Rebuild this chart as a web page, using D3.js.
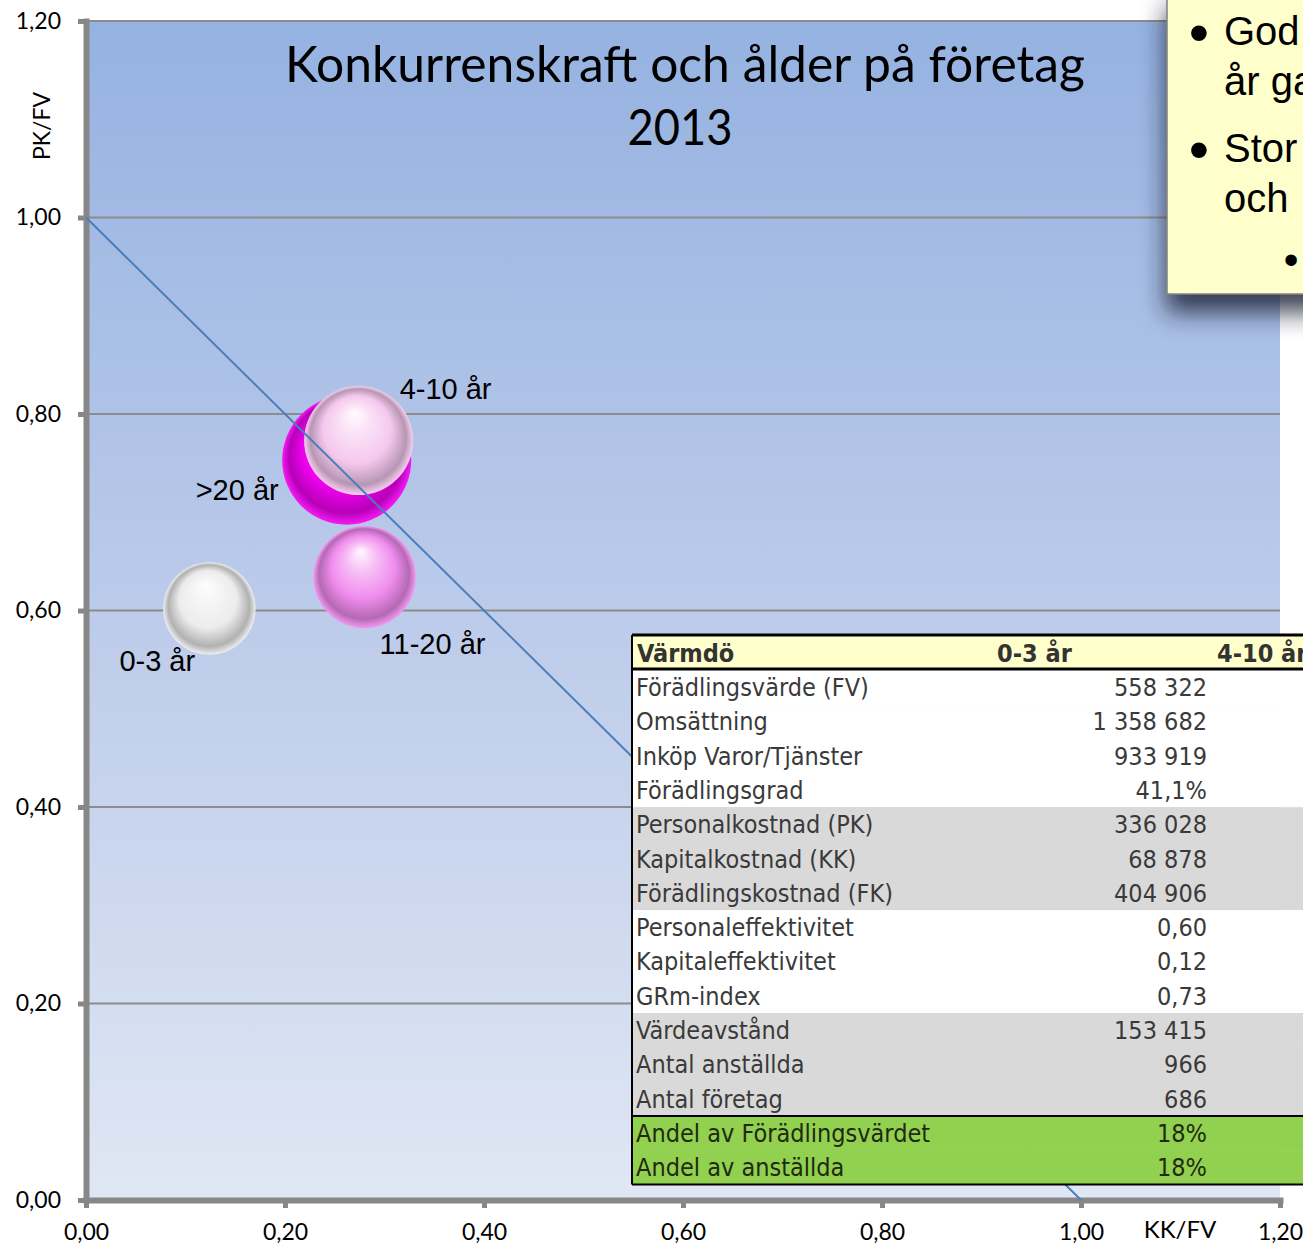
<!DOCTYPE html>
<html>
<head>
<meta charset="utf-8">
<script src="https://cdn.jsdelivr.net/npm/d3@7"></script>
<style>
  html, body { margin: 0; padding: 0; background: #fff; overflow: hidden; }
  svg { display: block; }
</style>
</head>
<body>
<script>
// ---------------- DATA ----------------
const categories = ["0-3 år", "4-10 år", "11-20 år", ">20 år"];
const kkfv = [0.124, 0.274, 0.28, 0.262];     // x: KK/FV
const pkfv = [0.602, 0.773, 0.634, 0.753];    // y: PK/FV
const bubbleSize = [18, 25, 22, 35];          // share of förädlingsvärde (%)

const xTicks = [0, 0.2, 0.4, 0.6, 0.8, 1.0, 1.2];
const yTicks = [0, 0.2, 0.4, 0.6, 0.8, 1.0, 1.2];
const refLine = [[0, 1], [1, 0]];

const chartTitle = ["Konkurrenskraft och ålder på företag", "2013"];
const xAxisTitle = "KK/FV";
const yAxisTitle = "PK/FV";

const tableHeader = ["Värmdö", "0-3 år", "4-10 år"];
const tableLabels = [
  "Förädlingsvärde (FV)", "Omsättning", "Inköp Varor/Tjänster", "Förädlingsgrad",
  "Personalkostnad (PK)", "Kapitalkostnad (KK)", "Förädlingskostnad (FK)",
  "Personaleffektivitet", "Kapitaleffektivitet", "GRm-index",
  "Värdeavstånd", "Antal anställda", "Antal företag",
  "Andel av Förädlingsvärdet", "Andel av anställda"
];
const tableValues03 = [
  "558 322", "1 358 682", "933 919", "41,1%",
  "336 028", "68 878", "404 906",
  "0,60", "0,12", "0,73",
  "153 415", "966", "686",
  "18%", "18%"
];
const noteLines = [
  { bullet: true, text: "God" },
  { bullet: false, text: "år ga" },
  { bullet: true, text: "Stor" },
  { bullet: false, text: "och" }
];

// ---------------- STYLE ----------------
const W = 1303, H = 1247;
const bubbleColors = { "0-3 år": "#ececec", "4-10 år": "#f5c8ee", "11-20 år": "#f08cee", ">20 år": "#f400f4" };
const labelOffset = {
  "0-3 år":  { dx: -90, dy: 62, anchor: "start" },
  "4-10 år": { dx: 41, dy: -42, anchor: "start" },
  "11-20 år": { dx: 15, dy: 77, anchor: "start" },
  ">20 år":  { dx: -151, dy: 40, anchor: "start" }
};
const rowBand = i => (i >= 13 ? "#92d050" : (i >= 4 && i <= 6) || (i >= 10 && i <= 12) ? "#d9d9d9" : "#ffffff");

const svg = d3.select("body").append("svg").attr("width", W).attr("height", H);
const defs = svg.append("defs");

const x = d3.scaleLinear().domain([0, 1.2]).range([86, 1280]);
const y = d3.scaleLinear().domain([0, 1.2]).range([1200, 21]);
const r = d3.scaleSqrt().domain([0, 35]).range([0, 64.5]);
const fmt = d => d.toFixed(2).replace(".", ",");

// plot background gradient
const bg = defs.append("linearGradient").attr("id", "plotbg").attr("x1", 0).attr("y1", 0).attr("x2", 0).attr("y2", 1);
bg.append("stop").attr("offset", "0%").attr("stop-color", "#95b2e1");
bg.append("stop").attr("offset", "50%").attr("stop-color", "#bccbea");
bg.append("stop").attr("offset", "100%").attr("stop-color", "#e0e7f4");

svg.append("rect")
  .attr("x", x(0)).attr("y", y(1.2))
  .attr("width", x(1.2) - x(0)).attr("height", y(0) - y(1.2))
  .attr("fill", "url(#plotbg)");

// gridlines
svg.append("g").selectAll("line").data(yTicks.filter(d => d > 0)).join("line")
  .attr("x1", x(0)).attr("x2", x(1.2))
  .attr("y1", d => y(d)).attr("y2", d => y(d))
  .attr("stroke", "#8c8c8c").attr("stroke-width", 2);

// title
const titleG = svg.append("g").attr("font-family", "Lato, 'Liberation Sans', sans-serif").attr("fill", "#000");
titleG.append("text").attr("x", 685).attr("y", 82).attr("text-anchor", "middle")
  .attr("font-size", 50).attr("textLength", 800).attr("lengthAdjust", "spacingAndGlyphs")
  .text(chartTitle[0]);
titleG.append("text").attr("x", 680).attr("y", 145).attr("text-anchor", "middle")
  .attr("font-size", 50).attr("textLength", 105).attr("lengthAdjust", "spacingAndGlyphs")
  .text(chartTitle[1]);

// axes
const axisColor = "#878787";
const yAxis = svg.append("g").attr("transform", `translate(${x(0)},0)`)
  .call(d3.axisLeft(y).tickValues(yTicks).tickFormat(fmt).tickSize(8).tickSizeOuter(0).tickPadding(17));
const xAxis = svg.append("g").attr("transform", `translate(0,${y(0)})`)
  .call(d3.axisBottom(x).tickValues(xTicks).tickFormat(fmt).tickSize(8).tickSizeOuter(0).tickPadding(16));
[xAxis, yAxis].forEach(a => {
  a.select(".domain").attr("stroke", axisColor).attr("stroke-width", 6).attr("stroke-linecap", "square");
  a.selectAll(".tick line").attr("stroke", axisColor).attr("stroke-width", 5);
  a.selectAll(".tick text").attr("font-family", "Lato, sans-serif").attr("font-size", 23).attr("fill", "#000");
});

svg.append("text").attr("transform", `translate(50,126) rotate(-90)`).attr("text-anchor", "middle")
  .attr("font-family", "Lato, sans-serif").attr("font-size", 23).attr("fill", "#000").text(yAxisTitle);
svg.append("text").attr("x", 1180).attr("y", 1238).attr("text-anchor", "middle")
  .attr("font-family", "Lato, sans-serif").attr("font-size", 24).attr("fill", "#000").text(xAxisTitle);

// bubbles
const points = categories.map((c, i) => ({ cat: c, x: kkfv[i], y: pkfv[i], s: bubbleSize[i], i }));
points.forEach(p => {
  const c = bubbleColors[p.cat];
  const g = defs.append("radialGradient").attr("id", "sph" + p.i)
    .attr("cx", "50%").attr("cy", "50%").attr("r", "50%").attr("fx", "46%").attr("fy", "24%");
  const light = t => d3.interpolateRgb(c, "#ffffff")(t);
  const dark = t => d3.interpolateRgb(c, "#000000")(t);
  g.append("stop").attr("offset", "0%").attr("stop-color", light(0.95));
  g.append("stop").attr("offset", "28%").attr("stop-color", light(0.45));
  g.append("stop").attr("offset", "62%").attr("stop-color", c);
  g.append("stop").attr("offset", "88%").attr("stop-color", dark(0.25));
  g.append("stop").attr("offset", "100%").attr("stop-color", light(0.1));
});

const drawOrder = points.slice().sort((a, b) => b.s - a.s);
svg.append("g").selectAll("circle").data(drawOrder).join("circle")
  .attr("cx", d => x(d.x)).attr("cy", d => y(d.y)).attr("r", d => r(d.s))
  .attr("fill", d => `url(#sph${d.i})`);

svg.append("g").selectAll("text").data(points).join("text")
  .attr("x", d => x(d.x) + labelOffset[d.cat].dx)
  .attr("y", d => y(d.y) + labelOffset[d.cat].dy)
  .attr("text-anchor", d => labelOffset[d.cat].anchor)
  .attr("font-family", "'Liberation Sans', Arial, sans-serif").attr("font-size", 29).attr("fill", "#000")
  .text(d => d.cat);

// reference line
svg.append("path").datum(refLine)
  .attr("d", d3.line().x(d => x(d[0])).y(d => y(d[1])))
  .attr("fill", "none").attr("stroke", "#4a7ebb").attr("stroke-width", 2);

// data table
const tX = 632, tTop = 635, headH = 34, rowH = 34.3, tW = 700;
const tbl = svg.append("g").attr("font-family", "'DejaVu Sans Condensed', 'DejaVu Sans', sans-serif");
tbl.append("rect").attr("x", tX).attr("y", tTop).attr("width", tW).attr("height", headH).attr("fill", "#ffffcc");
const rowsTop = tTop + headH + 1;
tbl.selectAll("rect.row").data(tableLabels).join("rect").attr("class", "row")
  .attr("x", tX).attr("y", (d, i) => rowsTop + i * rowH).attr("width", tW).attr("height", rowH + 0.5)
  .attr("fill", (d, i) => rowBand(i));
tbl.append("text").attr("x", tX + 5).attr("y", tTop + 27).attr("font-size", 25).attr("font-weight", "bold")
  .attr("fill", "#333").text(tableHeader[0]);
tbl.append("text").attr("x", 997).attr("y", tTop + 27).attr("font-size", 25).attr("font-weight", "bold")
  .attr("fill", "#333").text(tableHeader[1]);
tbl.append("text").attr("x", 1217).attr("y", tTop + 27).attr("font-size", 25).attr("font-weight", "bold")
  .attr("fill", "#333").text(tableHeader[2]);
tbl.selectAll("text.lab").data(tableLabels).join("text").attr("class", "lab")
  .attr("x", tX + 4).attr("y", (d, i) => rowsTop + i * rowH + 26)
  .attr("font-size", 25).attr("fill", (d, i) => i >= 13 ? "#1f2a10" : "#3a3a3a").text(d => d);
tbl.selectAll("text.val").data(tableValues03).join("text").attr("class", "val")
  .attr("x", 1207).attr("y", (d, i) => rowsTop + i * rowH + 26).attr("text-anchor", "end")
  .attr("font-size", 25).attr("fill", (d, i) => i >= 13 ? "#1f2a10" : "#3a3a3a").text(d => d);
const tBottom = rowsTop + tableLabels.length * rowH;
tbl.append("line").attr("x1", tX).attr("x2", tX + tW).attr("y1", tTop).attr("y2", tTop).attr("stroke", "#000").attr("stroke-width", 3);
tbl.append("line").attr("x1", tX).attr("x2", tX + tW).attr("y1", tTop + headH).attr("y2", tTop + headH).attr("stroke", "#000").attr("stroke-width", 3);
tbl.append("line").attr("x1", tX).attr("x2", tX + tW).attr("y1", rowsTop + 13 * rowH).attr("y2", rowsTop + 13 * rowH).attr("stroke", "#000").attr("stroke-width", 2);
tbl.append("line").attr("x1", tX).attr("x2", tX + tW).attr("y1", tBottom).attr("y2", tBottom).attr("stroke", "#000").attr("stroke-width", 2);
tbl.append("line").attr("x1", tX).attr("x2", tX).attr("y1", tTop).attr("y2", tBottom).attr("stroke", "#000").attr("stroke-width", 2);

// note box with shadow
const sh = defs.append("filter").attr("id", "shadow").attr("x", "-30%").attr("y", "-30%").attr("width", "160%").attr("height", "160%");
sh.append("feDropShadow").attr("dx", 0).attr("dy", 18).attr("stdDeviation", 12)
  .attr("flood-color", "#1c2538").attr("flood-opacity", 0.85);
const note = svg.append("g");
note.append("rect").attr("x", 1167).attr("y", -10).attr("width", 200).attr("height", 304)
  .attr("fill", "#ffffcc").attr("stroke", "#808080").attr("stroke-width", 1.5).attr("filter", "url(#shadow)");
const noteY = [45, 95, 162, 212];
const nt = note.append("g").attr("font-family", "'Liberation Sans', Arial, sans-serif").attr("fill", "#000");
nt.selectAll("text.nl").data(noteLines).join("text").attr("class", "nl")
  .attr("x", 1224).attr("y", (d, i) => noteY[i]).attr("font-size", 40).text(d => d.text);
nt.selectAll("text.bl").data(noteLines.filter(d => d.bullet)).join("text").attr("class", "bl")
  .attr("x", 1199).attr("y", (d, i) => [noteY[0], noteY[2]][i] + 7).attr("text-anchor", "middle")
  .attr("font-size", 58).text("•");
nt.append("text").attr("x", 1291).attr("y", 274).attr("text-anchor", "middle").attr("font-size", 42).text("•");
</script>
</body>
</html>
